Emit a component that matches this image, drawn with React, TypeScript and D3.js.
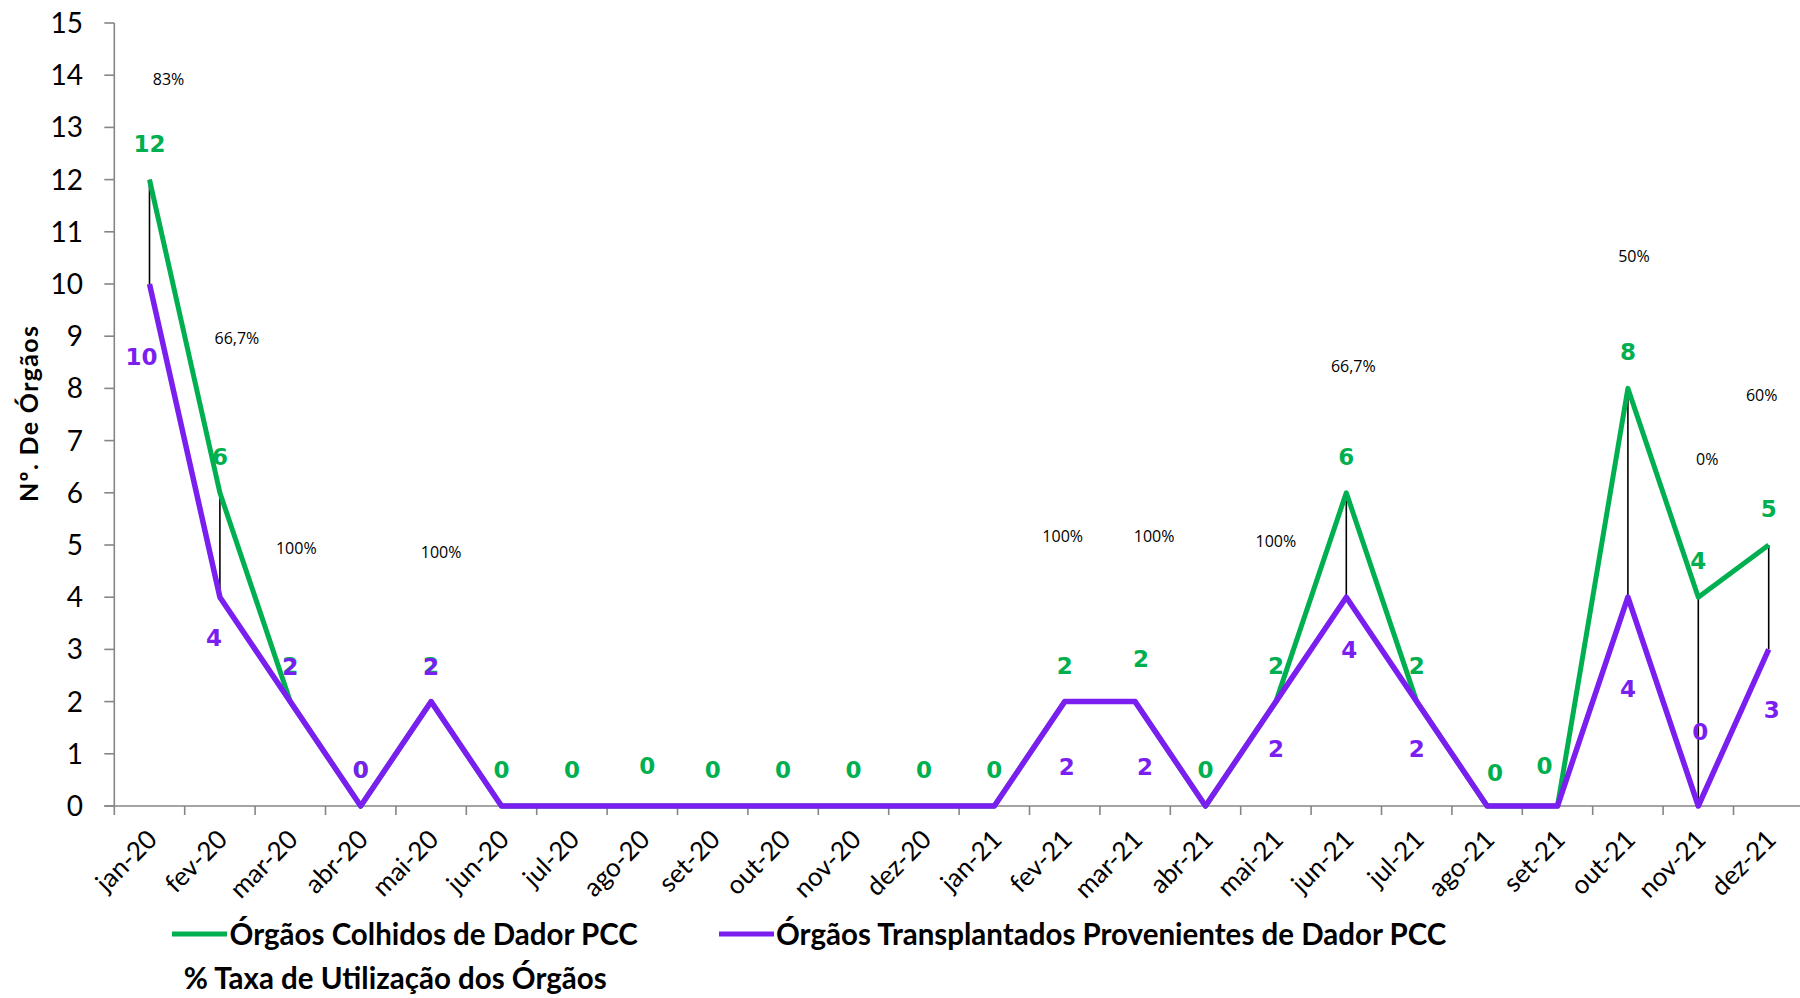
import React from "react";
import * as d3 from "d3";

const categories = ["jan-20","fev-20","mar-20","abr-20","mai-20","jun-20","jul-20","ago-20","set-20","out-20","nov-20","dez-20","jan-21","fev-21","mar-21","abr-21","mai-21","jun-21","jul-21","ago-21","set-21","out-21","nov-21","dez-21"];
const colhidos = [12,6,2,0,2,0,0,0,0,0,0,0,0,2,2,0,2,6,2,0,0,8,4,5];
const transplantados = [10,4,2,0,2,0,0,0,0,0,0,0,0,2,2,0,2,4,2,0,0,4,0,3];
const yTicks = d3.range(0, 16);
const pctCats = ["jan-20","fev-20","mar-20","mai-20","fev-21","mar-21","mai-21","jun-21","out-21","nov-21","dez-21"];
const pctTexts = ["83%","66,7%","100%","100%","100%","100%","100%","66,7%","50%","0%","60%"];
const seriesNames = ["Órgãos Colhidos de Dador PCC","Órgãos Transplantados Provenientes de Dador PCC","% Taxa de Utilização dos Órgãos"];

// label layout (pixel offsets / anchor heights), kept apart from the data
const pctLayout = [[19,13.92],[17,8.97],[6,4.94],[10,4.87],[-2,5.17],[19,5.17],[0,5.08],[7,8.43],[6,10.54],[9,6.64],[-7,7.87]];
const greenLabelOffset: Record<number,[number,number]> = {7:[5,-40],14:[6,-43],19:[8,-33],20:[-13,-40]};
const purpleLabelOffset: Record<number,[number,number]> = {0:[-8,73],1:[-6,41],2:[0,-35],3:[0,-36],4:[0,-35],13:[2,65],14:[10,65],16:[0,47],17:[3,53],18:[0,47],21:[0,92],22:[2,-74],23:[3,61]};

const GREEN = "#00B050";
const PURPLE = "#7A1FF0";
const AXIS = "#868686";

export default function App() {
  const W = 1800, H = 998;
  const left = 114.3, step = 70.4, y0 = 806, yTop = 23;
  const x = d3.scaleBand<string>().domain(categories).range([left, left + step * categories.length]).padding(0);
  const cx = (c: string) => (x(c) as number) + x.bandwidth() / 2;
  const y = d3.scaleLinear().domain([0, 15]).range([y0, yTop]);
  const line = d3.line<number>().x((_, i) => cx(categories[i])).y(d => y(d)).curve(d3.curveLinear);

  const lato = "Lato, 'Liberation Sans', sans-serif";
  const dv = "'DejaVu Sans', Verdana, sans-serif";

  return (
    <svg width={W} height={H} style={{ position: "absolute", left: 0, top: 0, background: "#fff" }} xmlns="http://www.w3.org/2000/svg">
      <rect width={W} height={H} fill="#fff" />
      {/* y axis */}
      <line x1={left} x2={left} y1={yTop} y2={y0} stroke={AXIS} strokeWidth={1.6} />
      {yTicks.map(t => (
        <g key={t}>
          <line x1={left - 10} x2={left} y1={y(t)} y2={y(t)} stroke={AXIS} strokeWidth={1.6} />
          <text x={83} y={y(t)} dy="0.36em" textAnchor="end" fontFamily={lato} fontSize={28} fill="#000">{t}</text>
        </g>
      ))}
      <text transform={`translate(28,${414}) rotate(-90)`} textAnchor="middle" dominantBaseline="central" fontFamily={lato} fontWeight="bold" fontSize={25} textLength={176} lengthAdjust="spacing" fill="#000">{"Nº. De  Órgãos"}</text>
      {/* x axis */}
      <line x1={left - 10} x2={W} y1={y0} y2={y0} stroke={AXIS} strokeWidth={1.6} />
      {categories.map((c, i) => (
        <g key={c}>
          <line x1={x(c) as number} x2={x(c) as number} y1={y0} y2={y0 + 9} stroke={AXIS} strokeWidth={1.6} />
          <text transform={`translate(${cx(c) + 2},${y0 + 28}) rotate(-45)`} textAnchor="end" dominantBaseline="central" fontFamily={lato} fontSize={26} fill="#000">{c}</text>
        </g>
      ))}
      {/* high-low lines */}
      {categories.map((c, i) => colhidos[i] !== transplantados[i] ? (
        <line key={"hl" + c} x1={cx(c)} x2={cx(c)} y1={y(colhidos[i])} y2={y(transplantados[i])} stroke="#000" strokeWidth={1.6} />
      ) : null)}
      <path d={line(colhidos) as string} fill="none" stroke={GREEN} strokeWidth={5} strokeLinejoin="round" />
      <path d={line(transplantados) as string} fill="none" stroke={PURPLE} strokeWidth={5.5} strokeLinejoin="round" />
      {/* green labels */}
      {categories.map((c, i) => {
        const o = greenLabelOffset[i] || [0, -36];
        return <text key={"g" + c} x={cx(c) + o[0]} y={y(colhidos[i]) + o[1]} textAnchor="middle" dominantBaseline="central" fontFamily={dv} fontWeight="bold" fontSize={23} fill={GREEN}>{colhidos[i]}</text>;
      })}
      {/* purple labels */}
      {categories.map((c, i) => {
        const o = purpleLabelOffset[i];
        if (!o) return null;
        return <text key={"p" + c} x={cx(c) + o[0]} y={y(transplantados[i]) + o[1]} textAnchor="middle" dominantBaseline="central" fontFamily={dv} fontWeight="bold" fontSize={23} fill={PURPLE}>{transplantados[i]}</text>;
      })}
      {/* percentage labels */}
      {pctCats.map((c, i) => (
        <text key={"pct" + i} x={cx(c) + pctLayout[i][0]} y={y(pctLayout[i][1])} textAnchor="middle" dominantBaseline="central" fontFamily="'Open Sans', sans-serif" fontSize={16} fill="#000">{pctTexts[i]}</text>
      ))}
      {/* legend */}
      <line x1={172} x2={227} y1={934} y2={934} stroke={GREEN} strokeWidth={5} />
      <text x={229.6} y={933} dominantBaseline="central" fontFamily={lato} fontWeight="bold" fontSize={29.5} fill="#000">{seriesNames[0]}</text>
      <line x1={719} x2={774} y1={934} y2={934} stroke={PURPLE} strokeWidth={5} />
      <text x={776} y={933} dominantBaseline="central" fontFamily={lato} fontWeight="bold" fontSize={29.5} fill="#000">{seriesNames[1]}</text>
      <text x={183.7} y={977} dominantBaseline="central" fontFamily={lato} fontWeight="bold" fontSize={29.5} fill="#000">{seriesNames[2]}</text>
    </svg>
  );
}
